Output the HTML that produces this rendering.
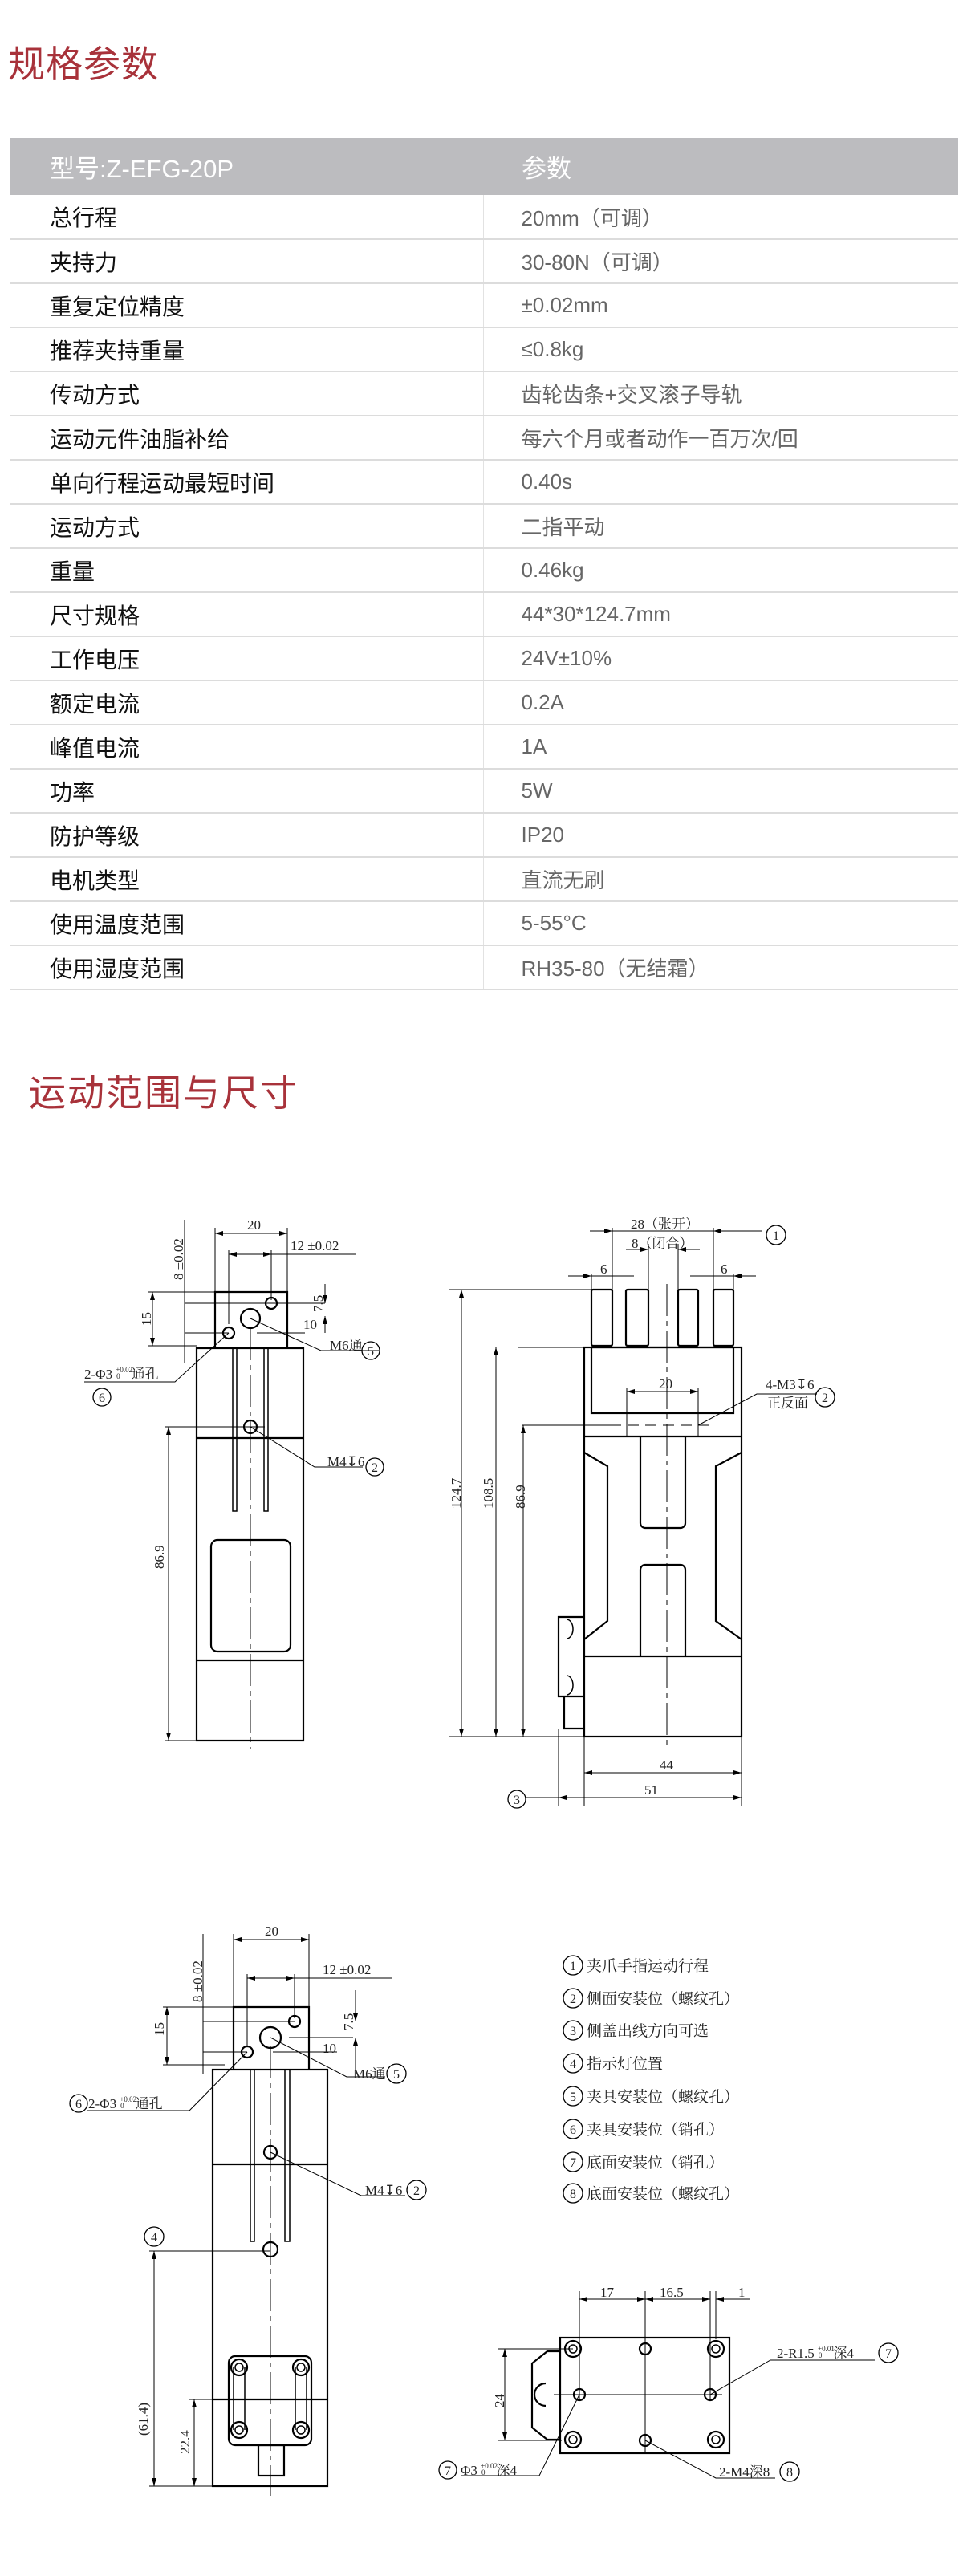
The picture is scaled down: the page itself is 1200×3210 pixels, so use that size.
<!DOCTYPE html>
<html><head><meta charset="utf-8">
<style>
*{margin:0;padding:0;box-sizing:border-box}
body{width:1200px;height:3210px;background:#fff;position:relative;overflow:hidden;font-family:"Liberation Sans","Noto Sans CJK SC",sans-serif}
.t1{position:absolute;left:10px;top:44px;font-size:46px;color:#a8323a;letter-spacing:1px}
.t2{position:absolute;left:36px;top:1326px;font-size:46px;color:#a8323a;letter-spacing:2px}
table{position:absolute;left:12px;top:172px;width:1182px;border-collapse:collapse}
th{background:#bcbcbf;color:#fff;font-weight:normal;font-size:31px;height:71px;text-align:left;padding-left:50px}
td{height:55px;border-bottom:2px solid #dcdcdc;font-size:28px;padding-left:50px;color:#111}
td.v{color:#666;border-left:1px solid #e2e2e2;font-size:26px;padding-left:47px}
svg{position:absolute;left:0;top:0}
</style></head><body>
<div class="t1">规格参数</div>
<table>
<tr><th style="width:590px">型号:Z-EFG-20P</th><th style="padding-left:48px">参数</th></tr>
<tr><td>总行程</td><td class="v">20mm（可调）</td></tr>
<tr><td>夹持力</td><td class="v">30-80N（可调）</td></tr>
<tr><td>重复定位精度</td><td class="v">±0.02mm</td></tr>
<tr><td>推荐夹持重量</td><td class="v">≤0.8kg</td></tr>
<tr><td>传动方式</td><td class="v">齿轮齿条+交叉滚子导轨</td></tr>
<tr><td>运动元件油脂补给</td><td class="v">每六个月或者动作一百万次/回</td></tr>
<tr><td>单向行程运动最短时间</td><td class="v">0.40s</td></tr>
<tr><td>运动方式</td><td class="v">二指平动</td></tr>
<tr><td>重量</td><td class="v">0.46kg</td></tr>
<tr><td>尺寸规格</td><td class="v">44*30*124.7mm</td></tr>
<tr><td>工作电压</td><td class="v">24V±10%</td></tr>
<tr><td>额定电流</td><td class="v">0.2A</td></tr>
<tr><td>峰值电流</td><td class="v">1A</td></tr>
<tr><td>功率</td><td class="v">5W</td></tr>
<tr><td>防护等级</td><td class="v">IP20</td></tr>
<tr><td>电机类型</td><td class="v">直流无刷</td></tr>
<tr><td>使用温度范围</td><td class="v">5-55°C</td></tr>
<tr><td>使用湿度范围</td><td class="v">RH35-80（无结霜）</td></tr>
</table>
<div class="t2">运动范围与尺寸</div>

<svg width="1200" height="3210" viewBox="0 0 1200 3210" font-family="'Liberation Serif','Noto Serif CJK SC',serif" font-size="18" fill="none" stroke="#000">
<defs>
<marker id="a" viewBox="0 0 10 6" refX="10" refY="3" markerWidth="10" markerHeight="6" orient="auto-start-reverse" markerUnits="userSpaceOnUse"><path d="M0,0L10,3L0,6z" fill="#000" stroke="none"/></marker>
</defs>
<g stroke-width="2.2">
<rect x="245" y="1680" width="133" height="489"/>
<path d="M268,1680V1610H358V1680"/>
<line x1="245" y1="1792" x2="378" y2="1792"/>
<line x1="245" y1="2069" x2="378" y2="2069"/>
<rect x="263" y="1919" width="99" height="139" rx="8"/>
<circle cx="312" cy="1643" r="12"/><circle cx="338" cy="1624" r="7"/><circle cx="285" cy="1661" r="7"/><circle cx="312" cy="1778" r="8"/>
<rect x="728" y="1679" width="196" height="485"/>
<rect x="737" y="1679" width="177" height="82"/>
<rect x="737" y="1607" width="26" height="70" rx="2"/><rect x="780" y="1607" width="28" height="70" rx="2"/><rect x="845" y="1607" width="25" height="70" rx="2"/><rect x="889" y="1607" width="25" height="70" rx="2"/>
<line x1="728" y1="1790" x2="924" y2="1790"/><line x1="728" y1="2064" x2="924" y2="2064"/>
<path d="M728,1810L757,1827V2020L728,2043"/><path d="M924,1810L892,1827V2020L924,2043"/>
<path d="M798,1790V1898a6,6 0 0 0 6,6H848a6,6 0 0 0 6,-6V1790"/>
<path d="M798,2064V1956a6,6 0 0 1 6,-6H848a6,6 0 0 1 6,6V2064"/>
<path d="M728,2015H696V2114H728M703,2114V2154H728"/>
<path d="M706,2018a8,12 0 0 1 0,24M706,2088a8,12 0 0 1 0,24" stroke-width="1.5"/>
<rect x="265" y="2579" width="143" height="519"/>
<path d="M291,2579V2501H385V2579"/>
<line x1="265" y1="2697" x2="408" y2="2697"/><line x1="265" y1="2990" x2="408" y2="2990"/>
<circle cx="337" cy="2539" r="13"/><circle cx="367" cy="2519" r="7"/><circle cx="308" cy="2557" r="7"/><circle cx="337" cy="2682" r="8"/><circle cx="337" cy="2803" r="9"/>
<rect x="285" y="2936" width="103" height="111" rx="8"/>
<rect x="322" y="3047" width="32" height="38"/>
<circle cx="298" cy="2950" r="10"/><circle cx="375" cy="2950" r="10"/><circle cx="298" cy="3028" r="10"/><circle cx="375" cy="3028" r="10"/>
<rect x="698" y="2913" width="211" height="144"/>
<path d="M698,2930H682L663,2945V3025L682,3040H698"/>
<circle cx="714" cy="2927" r="10"/><circle cx="892" cy="2927" r="10"/><circle cx="714" cy="3040" r="10"/><circle cx="892" cy="3040" r="10"/>
<circle cx="804" cy="2927" r="7"/><circle cx="804" cy="3041" r="7"/><circle cx="722" cy="2984" r="7"/><circle cx="885" cy="2984" r="7"/>
<path d="M680,2970a12,12 0 0 0 0,28" />
</g>
<g stroke-width="1.5">
<circle cx="298" cy="2950" r="5"/><circle cx="375" cy="2950" r="5"/><circle cx="298" cy="3028" r="5"/><circle cx="375" cy="3028" r="5"/>
<circle cx="714" cy="2927" r="5"/><circle cx="892" cy="2927" r="5"/><circle cx="714" cy="3040" r="5"/><circle cx="892" cy="3040" r="5"/>
<path d="M291,2950V3028M305,2950V3028M368,2950V3028M382,2950V3028"/>
<path d="M290,1680V1883H295V1680M329,1680V1883H334V1680"/>
<path d="M312,2579V2793H317V2579M355,2579V2793H361V2579"/>
</g>
<g stroke-width="1">
<line x1="312" y1="1655" x2="312" y2="2180" stroke-dasharray="40,6,6,6"/>
<line x1="831" y1="1600" x2="831" y2="2175" stroke-dasharray="40,6,6,6"/>
<line x1="337" y1="2550" x2="337" y2="3110" stroke-dasharray="40,6,6,6"/>
<line x1="760" y1="1776" x2="890" y2="1776" stroke-dasharray="14,8"/>
<path d="M690,2984H900M804,2905V3055"/>
<path d="M268,1610V1530M358,1610V1530M285,1650V1558M338,1620V1558"/>
<line x1="268" y1="1537" x2="358" y2="1537" marker-start="url(#a)" marker-end="url(#a)"/>
<line x1="285" y1="1563" x2="338" y2="1563" marker-start="url(#a)" marker-end="url(#a)"/>
<line x1="338" y1="1563" x2="443" y2="1563"/>
<path d="M230,1520V1698M185,1610H268M185,1677H245M230,1624H338M230,1661H285M320,1661H380M295,1624H405"/>
<line x1="190" y1="1610" x2="190" y2="1677" marker-start="url(#a)" marker-end="url(#a)"/>
<line x1="405" y1="1600" x2="405" y2="1624" marker-end="url(#a)"/>
<line x1="405" y1="1661" x2="405" y2="1640" marker-end="url(#a)"/>
<path d="M312,1643L400,1683H472M285,1661L218,1722H105M312,1778L392,1828H452M205,1778H330M205,2169H245"/>
<line x1="210" y1="1778" x2="210" y2="2169" marker-start="url(#a)" marker-end="url(#a)"/>
<path d="M763,1607V1530M889,1607V1530M808,1607V1550M845,1607V1550M737,1607V1588M914,1607V1588"/>
<line x1="735" y1="1534" x2="763" y2="1534" marker-end="url(#a)"/>
<line x1="950" y1="1534" x2="889" y2="1534" marker-end="url(#a)"/>
<line x1="763" y1="1534" x2="889" y2="1534"/>
<line x1="780" y1="1557" x2="808" y2="1557" marker-end="url(#a)"/>
<line x1="872" y1="1557" x2="845" y2="1557" marker-end="url(#a)"/>
<line x1="708" y1="1590" x2="737" y2="1590" marker-end="url(#a)"/><line x1="737" y1="1590" x2="790" y2="1590"/>
<line x1="942" y1="1590" x2="914" y2="1590" marker-end="url(#a)"/><line x1="914" y1="1590" x2="860" y2="1590"/>
<path d="M781,1730V1790M870,1730V1790"/>
<line x1="781" y1="1734" x2="870" y2="1734" marker-start="url(#a)" marker-end="url(#a)"/>
<path d="M870,1776L943,1737H1018M560,1607H737M560,2164H728M645,1679H728M650,1776H760"/>
<line x1="575" y1="1607" x2="575" y2="2164" marker-start="url(#a)" marker-end="url(#a)"/>
<line x1="618" y1="1679" x2="618" y2="2164" marker-start="url(#a)" marker-end="url(#a)"/>
<line x1="652" y1="1776" x2="652" y2="2164" marker-start="url(#a)" marker-end="url(#a)"/>
<path d="M728,2164V2250M924,2164V2250M696,2154V2250"/>
<line x1="728" y1="2209" x2="924" y2="2209" marker-start="url(#a)" marker-end="url(#a)"/>
<line x1="696" y1="2240" x2="924" y2="2240" marker-start="url(#a)" marker-end="url(#a)"/>
<line x1="655" y1="2240" x2="696" y2="2240"/>
<path d="M291,2501V2410M385,2501V2410M308,2550V2460M367,2515V2460"/>
<line x1="291" y1="2417" x2="385" y2="2417" marker-start="url(#a)" marker-end="url(#a)"/>
<line x1="308" y1="2465" x2="367" y2="2465" marker-start="url(#a)" marker-end="url(#a)"/>
<line x1="367" y1="2465" x2="488" y2="2465"/>
<path d="M253,2410V2585M203,2501H291M203,2573H280M253,2519H367M253,2557H308M340,2557H420M360,2539H440"/>
<line x1="208" y1="2501" x2="208" y2="2573" marker-start="url(#a)" marker-end="url(#a)"/>
<line x1="443" y1="2480" x2="443" y2="2519" marker-end="url(#a)"/>
<line x1="443" y1="2580" x2="443" y2="2539" marker-end="url(#a)"/>
<path d="M337,2539L432,2588H480M308,2557L236,2630H108M337,2682L450,2736H505M186,2805H337M186,3098H265M236,2990H265"/>
<line x1="192" y1="2805" x2="192" y2="3098" marker-start="url(#a)" marker-end="url(#a)"/>
<line x1="242" y1="2990" x2="242" y2="3098" marker-start="url(#a)" marker-end="url(#a)"/>
<path d="M722,2855V2990M804,2855V2905M885,2855V2990M892,2855V2915M620,2927H714M620,3041H700"/>
<line x1="722" y1="2865" x2="804" y2="2865" marker-start="url(#a)" marker-end="url(#a)"/>
<line x1="804" y1="2865" x2="885" y2="2865" marker-start="url(#a)" marker-end="url(#a)"/>
<line x1="870" y1="2865" x2="885" y2="2865"/><line x1="935" y1="2865" x2="892" y2="2865" marker-end="url(#a)"/>
<line x1="629" y1="2927" x2="629" y2="3041" marker-start="url(#a)" marker-end="url(#a)"/>
<path d="M885,2984L960,2941H1090M722,2984L672,3085H574M804,3041L892,3088H966"/>
</g>
<g stroke-width="1.3">
<circle cx="462" cy="1683" r="11"/><circle cx="127" cy="1741" r="11"/><circle cx="467" cy="1828" r="11"/>
<circle cx="967" cy="1539" r="12"/><circle cx="1028" cy="1741" r="12"/><circle cx="644" cy="2242" r="11"/>
<circle cx="494" cy="2584" r="12"/><circle cx="98" cy="2621" r="11"/><circle cx="519" cy="2729" r="12"/><circle cx="192" cy="2787" r="12"/>
<circle cx="1107" cy="2932" r="12"/><circle cx="558" cy="3078" r="11"/><circle cx="984" cy="3080" r="12"/>
<circle cx="714" cy="2449" r="12"/><circle cx="714" cy="2490" r="12"/><circle cx="714" cy="2530" r="12"/><circle cx="714" cy="2571" r="12"/><circle cx="714" cy="2612" r="12"/><circle cx="714" cy="2653" r="12"/><circle cx="714" cy="2694" r="12"/><circle cx="714" cy="2733" r="12"/>
</g>
<g fill="#222" stroke="none" font-size="17">
<g text-anchor="middle" font-size="16">
<text x="462" y="1689">5</text><text x="127" y="1747">6</text><text x="467" y="1834">2</text>
<text x="967" y="1545">1</text><text x="1028" y="1747">2</text><text x="644" y="2248">3</text>
<text x="494" y="2590">5</text><text x="98" y="2627">6</text><text x="519" y="2735">2</text><text x="192" y="2793">4</text>
<text x="1107" y="2938">7</text><text x="558" y="3084">7</text><text x="984" y="3086">8</text>
<text x="714" y="2455">1</text><text x="714" y="2496">2</text><text x="714" y="2536">3</text><text x="714" y="2577">4</text><text x="714" y="2618">5</text><text x="714" y="2659">6</text><text x="714" y="2700">7</text><text x="714" y="2739">8</text>
</g>
<text x="308" y="1532">20</text><text x="362" y="1558">12 ±0.02</text>
<text transform="translate(228,1595) rotate(-90)">8 ±0.02</text>
<text transform="translate(188,1652) rotate(-90)">15</text>
<text transform="translate(402,1635) rotate(-90)">7.5</text>
<text x="378" y="1656">10</text><text x="411" y="1682">M6通</text>
<text x="105" y="1718">2-Φ3 <tspan font-size="9" dy="-8">+0.02</tspan><tspan font-size="9" dx="-20" dy="8">0</tspan><tspan dx="14">通孔</tspan></text>
<text x="408" y="1827">M4↧6</text>
<text transform="translate(204,1955) rotate(-90)">86.9</text>
<text x="786" y="1531">28（张开）</text><text x="787" y="1555">8（闭合）</text>
<text x="748" y="1587">6</text><text x="898" y="1587">6</text><text x="821" y="1730">20</text>
<text x="954" y="1731">4-M3↧6</text><text x="956" y="1754">正反面</text>
<text transform="translate(574,1880) rotate(-90)">124.7</text>
<text transform="translate(614,1880) rotate(-90)">108.5</text>
<text transform="translate(654,1880) rotate(-90)">86.9</text>
<text x="822" y="2205">44</text><text x="803" y="2236">51</text>
<text x="330" y="2412">20</text><text x="402" y="2460">12 ±0.02</text>
<text transform="translate(252,2495) rotate(-90)">8 ±0.02</text>
<text transform="translate(204,2537) rotate(-90)">15</text>
<text transform="translate(440,2530) rotate(-90)">7.5</text>
<text x="402" y="2558">10</text><text x="440" y="2590">M6通</text>
<text x="110" y="2627">2-Φ3 <tspan font-size="9" dy="-8">+0.02</tspan><tspan font-size="9" dx="-20" dy="8">0</tspan><tspan dx="14">通孔</tspan></text>
<text x="455" y="2735">M4↧6</text>
<text transform="translate(184,3035) rotate(-90)">(61.4)</text>
<text transform="translate(236,3058) rotate(-90)">22.4</text>
<text x="748" y="2862">17</text><text x="822" y="2862">16.5</text><text x="920" y="2862">1</text>
<text transform="translate(628,3000) rotate(-90)">24</text>
<text x="968" y="2938">2-R1.5 <tspan font-size="9" dy="-8">+0.01</tspan><tspan font-size="9" dx="-20" dy="8">0</tspan><tspan dx="14">深4</tspan></text>
<text x="574" y="3084">Φ3 <tspan font-size="9" dy="-8">+0.02</tspan><tspan font-size="9" dx="-20" dy="8">0</tspan><tspan dx="14">深4</tspan></text>
<text x="896" y="3086">2-M4深8</text>
<g font-size="19">
<text x="731" y="2456">夹爪手指运动行程</text>
<text x="731" y="2497">侧面安装位（螺纹孔）</text>
<text x="731" y="2537">侧盖出线方向可选</text>
<text x="731" y="2578">指示灯位置</text>
<text x="731" y="2619">夹具安装位（螺纹孔）</text>
<text x="731" y="2660">夹具安装位（销孔）</text>
<text x="731" y="2701">底面安装位（销孔）</text>
<text x="731" y="2740">底面安装位（螺纹孔）</text>
</g>
</g>
</svg>
</body></html>
